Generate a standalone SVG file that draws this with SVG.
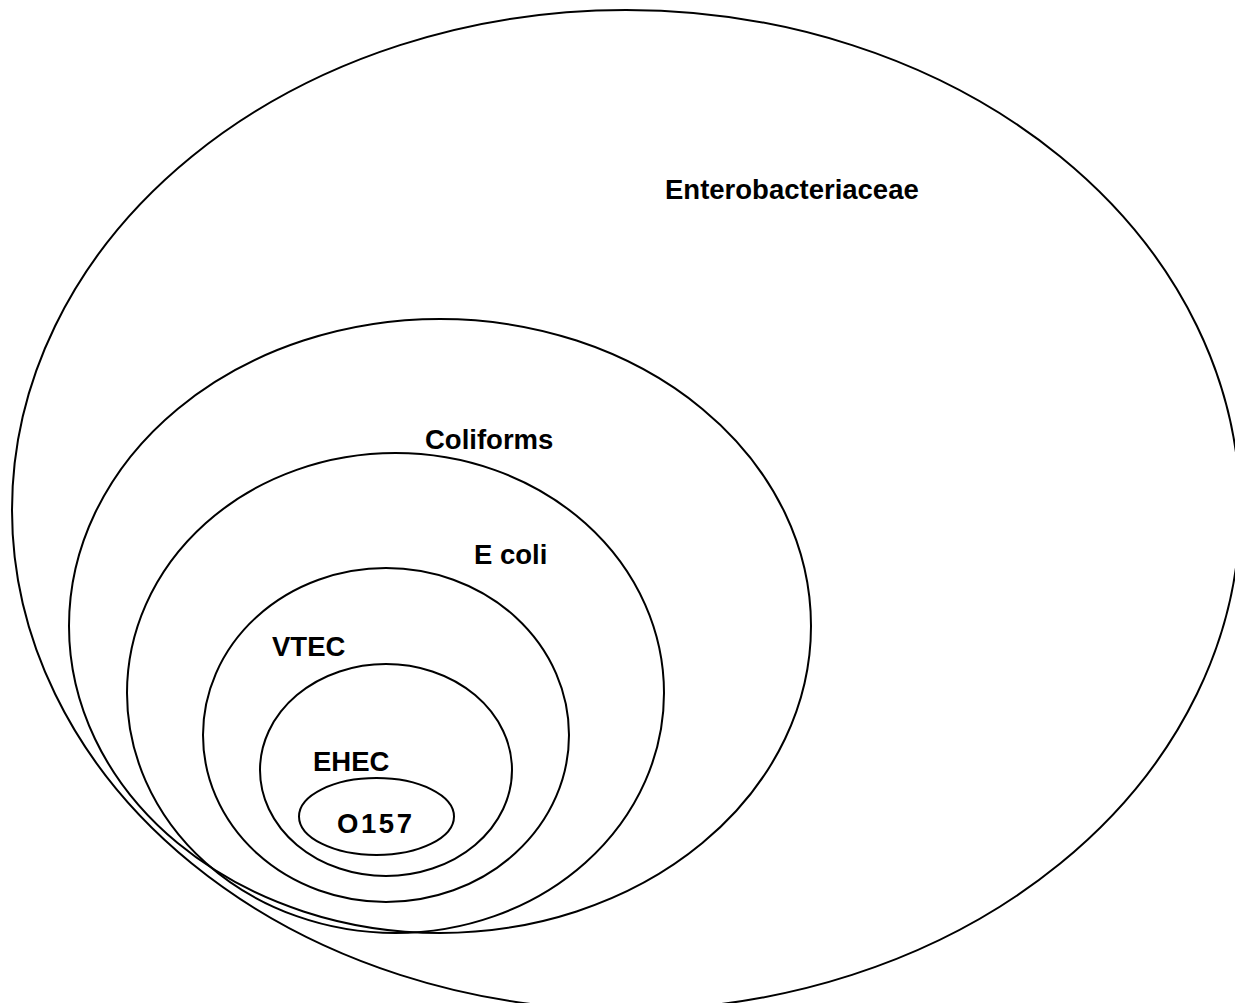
<svg xmlns="http://www.w3.org/2000/svg" width="1235" height="1003" viewBox="0 0 1235 1003">
<style>
.e{fill:none;stroke:#000;stroke-width:2}
.t{font-family:"Liberation Sans",Arial,sans-serif;font-weight:bold;font-size:27.5px;fill:#000}
</style>
<rect width="1235" height="1003" fill="#fff"/>
<g id="enterobacteriaceae"><ellipse class="e" cx="626" cy="510" rx="614" ry="500"/><text class="t" x="665" y="199">Enterobacteriaceae</text></g>
<g id="coliforms"><ellipse class="e" cx="440" cy="626" rx="371" ry="307"/><text class="t" x="425" y="449">Coliforms</text></g>
<g id="ecoli"><ellipse class="e" cx="395.5" cy="693" rx="268.5" ry="240"/><text class="t" x="474" y="564">E coli</text></g>
<g id="vtec"><ellipse class="e" cx="386" cy="735" rx="183" ry="167"/><text class="t" x="272" y="656">VTEC</text></g>
<g id="ehec"><ellipse class="e" cx="386" cy="770" rx="126" ry="106"/><text class="t" x="313" y="771">EHEC</text></g>
<g id="o157"><ellipse class="e" cx="376.5" cy="816.5" rx="77.5" ry="38.5"/><text class="t" x="337" y="833" textLength="75" lengthAdjust="spacing">O157</text></g>
<g id="connectors"/>
</svg>
